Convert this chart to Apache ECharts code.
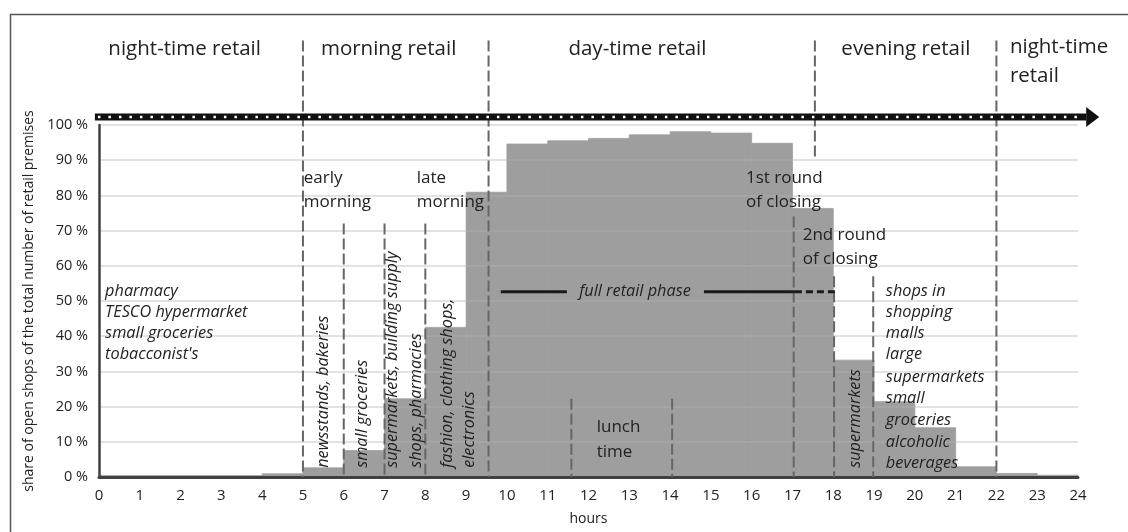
<!DOCTYPE html>
<html>
<head>
<meta charset="utf-8">
<script src="https://cdn.jsdelivr.net/npm/echarts@6/dist/echarts.min.js"></script>
<style>
	html, body { margin: 0; padding: 0; background: #fff; }
	#chart { width: 1128px; height: 532px; }
</style>
</head>
<body>
<div id="chart"></div>
<script>
// hourly share of open shops (%), bar i spans hour i..i+1
let hour_start = [0, 1, 2, 3, 4, 5, 6, 7, 8, 9, 10, 11, 12, 13, 14, 15, 16, 17, 18, 19, 20, 21, 22, 23];
let open_share = [0.4, 0.4, 0.4, 0.4, 0.9, 2.6, 7.5, 22.2, 42.5, 80.9, 94.6, 95.5, 96.2, 97.2, 98.1, 97.7, 94.8, 76.3, 33.2, 21.4, 14.0, 2.9, 1.0, 0.5];

// dashed divider lines: [hour, top %, bottom %]
let divider_lines = [
	[5, 124, 0], [9.55, 124, 0], [22, 124, 0], [17.55, 124, 90],
	[6, 72, 0], [7, 72, 0], [8, 72, 0],
	[11.58, 22.2, 0], [14.05, 22.2, 0],
	[17.03, 74, 0], [18.02, 57, 0], [18.98, 57, 0],
];
// full retail phase bar: [from, to, %, dashed]
let phase_lines = [[9.85, 11.47, 52.6, 0], [14.83, 17.06, 52.6, 0], [17.06, 18.06, 52.6, 1]];

let period_labels = ['night-time retail', 'morning retail', 'day-time retail', 'evening retail'];
let period_pos = [2.1, 7.1, 13.2, 19.78];
let night_list = ['pharmacy', 'TESCO hypermarket', 'small groceries', "tobacconist's"];
let evening_list = ['shops in', 'shopping', 'malls', 'large', 'supermarkets', 'small', 'groceries', 'alcoholic', 'beverages'];
let list_rows = [52.8, 46.9, 40.8, 34.7, 28.4, 22.2, 16.2, 9.9, 4.0];
let rotated_labels = [
	['newsstands, bakeries', 5.49], ['small groceries', 6.45],
	['supermarkets, building supply', 7.2], ['shops, pharmacies', 7.79],
	['fashion, clothing shops,', 8.53], ['electronics', 9.09], ['supermarkets', 18.53],
];

const FONT = '"Open Sans", "Noto Sans", sans-serif';
const INK = '#222';
const BAR = '#9e9e9e';

let chart = echarts.init(document.getElementById('chart'));
let option = {
	animation: false,
	grid: { left: 99, right: 50, top: 125, bottom: 55 },
	xAxis: {
		type: 'value', min: 0, max: 24, interval: 1, offset: 2,
		axisLine: { lineStyle: { color: '#404040', width: 3 } },
		axisTick: { show: false },
		splitLine: { show: false },
		axisLabel: { fontSize: 15, color: INK, fontFamily: FONT, margin: 9 },
		name: 'hours', nameLocation: 'middle', nameGap: 33,
		nameTextStyle: { fontSize: 14, color: INK, fontFamily: FONT },
	},
	yAxis: {
		type: 'value', min: 0, max: 100, interval: 10,
		axisLine: { show: true, lineStyle: { color: '#404040', width: 2.5 } },
		axisTick: { show: false },
		splitLine: { lineStyle: { color: 'rgba(180,180,180,0.5)', width: 1.5 } },
		axisLabel: { formatter: '{value} %', fontSize: 14.5, color: INK, fontFamily: FONT, margin: 11 },
		name: 'share of open shops of the total number of retail premises',
		nameLocation: 'middle', nameGap: 51,
		nameTextStyle: { fontSize: 14, color: INK, fontFamily: FONT },
	},
	series: [
		{
			type: 'custom',
			data: hour_start.map((h, i) => [h, h + 1, open_share[i]]),
			encode: { x: [0, 1], y: 2 },
			renderItem: (params, api) => {
				let p1 = api.coord([api.value(0), api.value(2)]);
				let p2 = api.coord([api.value(1), 0]);
				return {
					type: 'rect',
					shape: { x: p1[0], y: p1[1], width: p2[0] - p1[0], height: p2[1] - p1[1] },
					style: { fill: BAR, stroke: BAR, lineWidth: 0.8 },
				};
			},
			z: -1,
		},
		{
			type: 'custom',
			clip: false,
			data: divider_lines,
			encode: { x: 0, y: 2 },
			renderItem: (params, api) => {
				let a = api.coord([api.value(0), api.value(1)]);
				let b = api.coord([api.value(0), api.value(2)]);
				return {
					type: 'line',
					shape: { x1: a[0], y1: a[1], x2: b[0], y2: b[1] },
					style: { stroke: '#666', lineWidth: 2, lineDash: [11, 4] },
				};
			},
			z: 3,
		},
		{
			type: 'custom',
			data: phase_lines,
			encode: { x: [0, 1], y: 2 },
			renderItem: (params, api) => {
				let a = api.coord([api.value(0), api.value(2)]);
				let b = api.coord([api.value(1), api.value(2)]);
				return {
					type: 'line',
					shape: { x1: a[0], y1: a[1], x2: b[0], y2: b[1] },
					style: { stroke: '#1a1a1a', lineWidth: 3, lineDash: api.value(3) ? [7, 4] : null },
				};
			},
			z: 4,
		},
	],
};
chart.setOption(option);

// text and decorations placed from data coordinates
let px = (x, y) => chart.convertToPixel({ gridIndex: 0 }, [x, y]);
let graphic = [];
function add_text(text, x, y, opt) {
	let p = px(x, y);
	graphic.push({
		type: 'text', x: p[0], y: p[1], rotation: opt.rotation || 0, z: 10,
		style: {
			text: text, fill: INK, font: `${opt.italic ? 'italic ' : ''}${opt.size}px ${FONT}`,
			align: opt.align || 'left', verticalAlign: opt.valign || 'middle',
		},
	});
}

// frame
graphic.push({ type: 'rect', left: 8, top: 12, shape: { width: 1200, height: 600 }, style: { fill: null, stroke: '#555', lineWidth: 1.5 }, z: 0 });

// arrow band on top
let band_a = px(-0.1, 102.3), band_b = px(24.2, 102.3), tip = px(24.52, 102.3);
graphic.push({ type: 'line', shape: { x1: band_a[0], y1: band_a[1], x2: band_b[0], y2: band_b[1] }, style: { stroke: '#111', lineWidth: 7 }, z: 5 });
graphic.push({ type: 'line', shape: { x1: band_a[0] + 3, y1: band_a[1], x2: band_b[0] - 4, y2: band_b[1] }, style: { stroke: '#fff', lineWidth: 2.5, lineDash: [2.5, 8] }, z: 6 });
graphic.push({ type: 'polygon', shape: { points: [[band_b[0], band_b[1] - 10], [tip[0], tip[1]], [band_b[0], band_b[1] + 10]] }, style: { fill: '#111' }, z: 6 });

period_labels.forEach((t, i) => add_text(t, period_pos[i], 121.5, { size: 20.5, align: 'center' }));
add_text('night-time', 22.33, 122, { size: 20.5 });
add_text('retail', 22.33, 113.8, { size: 20.5 });

add_text('early', 5.02, 84.9, { size: 17 });
add_text('morning', 5.02, 78.1, { size: 17 });
add_text('late', 7.79, 84.9, { size: 17 });
add_text('morning', 7.79, 78.1, { size: 17 });
add_text('1st round', 15.86, 84.9, { size: 17 });
add_text('of closing', 15.86, 78.1, { size: 17 });
add_text('2nd round', 17.25, 68.75, { size: 17 });
add_text('of closing', 17.25, 61.9, { size: 17 });
add_text('lunch', 12.2, 14.2, { size: 17 });
add_text('time', 12.2, 7.1, { size: 17 });

add_text('full retail phase', 13.14, 52.8, { size: 16.3, italic: true, align: 'center' });
night_list.forEach((t, i) => add_text(t, 0.15, list_rows[i], { size: 16.3, italic: true }));
evening_list.forEach((t, i) => add_text(t, 19.29, list_rows[i], { size: 16.3, italic: true }));
rotated_labels.forEach((r) => add_text(r[0], r[1], 2.6, { size: 16.3, italic: true, rotation: Math.PI / 2 }));

chart.setOption({ graphic: graphic });
</script>
</body>
</html>
